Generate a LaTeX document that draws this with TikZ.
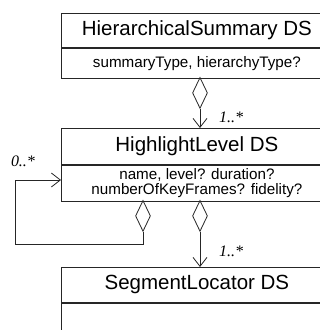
\documentclass[tikz,border=0pt]{standalone}
\usepackage{fontspec}
\setmainfont{Liberation Sans}
\newfontfamily\multfont{Liberation Serif}
\usetikzlibrary{shapes.geometric,arrows.meta}
\tikzset{
  x=1pt, y=1pt,
  umlline/.style={line width=0.8pt, draw=black!85},
  classtitle/.style={umlline, draw, anchor=north west, minimum width=271pt,
    minimum height=34pt, inner sep=0pt, font=\fontsize{20.5}{22}\selectfont},
  classattr/.style={umlline, draw, anchor=north west, minimum width=271pt,
    inner sep=0pt, align=center, font=\fontsize{15.2}{15}\selectfont},
  aggdiamond/.style={umlline, draw, diamond, minimum width=15pt,
    minimum height=31pt, inner sep=0pt},
  navarrow/.style={umlline, -{Straight Barb[length=9pt, width=14pt, line width=0.8pt]}},
  mult/.style={font=\multfont\itshape\fontsize{16}{16}\selectfont, inner sep=0pt}
}
\begin{document}
\begin{tikzpicture}
  \useasboundingbox (0,0) rectangle (320,-330);
  \clip (0,0) rectangle (320,-330);

  % HierarchicalSummary DS
  \node[classtitle] (hsTitle) at (61,-13) {HierarchicalSummary DS};
  \node[classattr, minimum height=30pt] (hsAttr) at (hsTitle.south west)
    {summaryType, hierarchyType?};

  % HighlightLevel DS
  \node[classtitle, minimum height=36pt] (hlTitle) at (61,-128) {HighlightLevel DS};
  \node[classattr, minimum height=36pt] (hlAttr) at (hlTitle.south west)
    {name, level? duration?\\numberOfKeyFrames? fidelity?};

  % SegmentLocator DS
  \node[classtitle, minimum height=35pt] (slTitle) at (61,-267) {SegmentLocator DS};
  \node[classattr, minimum height=40pt] (slAttr) at (slTitle.south west) {};

  % aggregation diamonds
  \node[aggdiamond, anchor=north] (dTop) at (200,-77) {};
  \node[aggdiamond, anchor=north] (dLoop) at (143,-200) {};
  \node[aggdiamond, anchor=north] (dDown) at (200,-200) {};

  % HierarchicalSummary -> HighlightLevel
  \draw[navarrow] (dTop.south) -- (dTop.south |- hlTitle.north);
  \node[mult] (mTop) at (231,-117) {1..*};

  % HighlightLevel -> HighlightLevel (recursive)
  \coordinate (loopCorner) at (15,-244);
  \coordinate (loopIn) at (61,-180);
  \draw[navarrow] (dLoop.south) |- (loopCorner) |- (loopIn);
  \node[mult] (mLoop) at (23,-161) {0..*};

  % HighlightLevel -> SegmentLocator
  \draw[navarrow] (dDown.south) -- (dDown.south |- slTitle.north);
  \node[mult] (mDown) at (231,-251) {1..*};
\end{tikzpicture}
\end{document}
